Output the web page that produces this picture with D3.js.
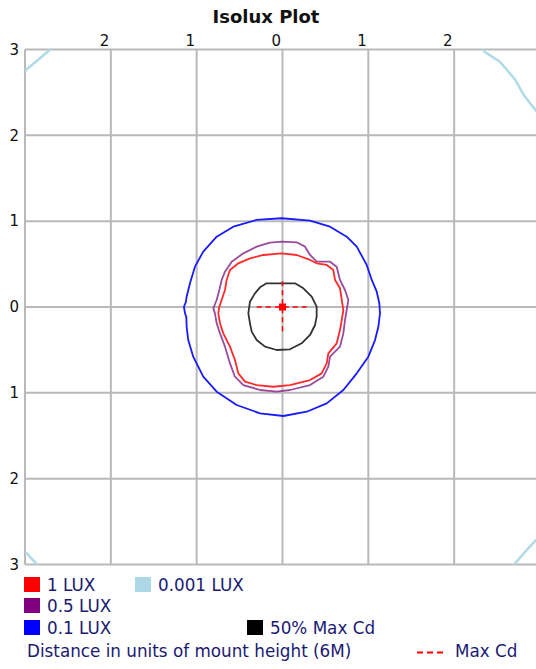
<!DOCTYPE html>
<html><head><meta charset="utf-8">
<script src="https://cdn.jsdelivr.net/npm/d3@7"></script>
<style>html,body{margin:0;padding:0;background:#fff;}svg{display:block;}</style>
</head><body>
<svg id="c" width="536" height="669"></svg>
<script>
// ---- data (units of mount height) ----
const xTicks = [-2, -1, 0, 1, 2];
const yTicks = [-3, -2, -1, 0, 1, 2, 3];
const gridX = [-3, -2, -1, 0, 1, 2, 3];
const gridY = [-3, -2, -1, 0, 1, 2, 3];

const lux1 = [[-0.010,0.625],[0.165,0.606],[0.321,0.548],[0.398,0.509],[0.515,0.490],[0.592,0.431],[0.612,0.315],[0.670,0.218],[0.690,0.082],[0.709,-0.035],[0.690,-0.152],[0.670,-0.268],[0.631,-0.423],[0.534,-0.540],[0.515,-0.657],[0.456,-0.773],[0.321,-0.851],[0.087,-0.909],[-0.107,-0.929],[-0.301,-0.909],[-0.437,-0.870],[-0.515,-0.773],[-0.554,-0.618],[-0.612,-0.462],[-0.690,-0.307],[-0.728,-0.190],[-0.748,-0.074],[-0.736,0.004],[-0.709,0.082],[-0.670,0.198],[-0.651,0.315],[-0.612,0.431],[-0.515,0.509],[-0.379,0.567],[-0.223,0.606]];

const lux05 = [[-0.010,0.761],[0.165,0.754],[0.262,0.703],[0.321,0.606],[0.398,0.528],[0.554,0.528],[0.631,0.470],[0.670,0.315],[0.728,0.198],[0.767,0.082],[0.748,-0.035],[0.728,-0.152],[0.709,-0.307],[0.670,-0.462],[0.554,-0.579],[0.534,-0.695],[0.476,-0.812],[0.321,-0.909],[0.087,-0.967],[-0.068,-0.987],[-0.262,-0.967],[-0.456,-0.909],[-0.554,-0.812],[-0.612,-0.657],[-0.670,-0.462],[-0.728,-0.307],[-0.767,-0.190],[-0.787,-0.074],[-0.806,-0.016],[-0.767,0.082],[-0.736,0.198],[-0.709,0.315],[-0.670,0.412],[-0.592,0.528],[-0.456,0.625],[-0.301,0.703],[-0.146,0.750]];

const lux01 = [[-0.010,1.034],[0.320,1.006],[0.554,0.936],[0.748,0.819],[0.865,0.703],[0.981,0.490],[1.040,0.315],[1.098,0.178],[1.128,0.043],[1.136,-0.073],[1.117,-0.230],[1.078,-0.385],[1.000,-0.579],[0.865,-0.773],[0.709,-0.967],[0.515,-1.123],[0.282,-1.220],[0.010,-1.270],[-0.262,-1.239],[-0.534,-1.142],[-0.767,-0.987],[-0.923,-0.812],[-1.040,-0.579],[-1.098,-0.385],[-1.117,-0.230],[-1.120,-0.120],[-1.136,-0.073],[-1.148,0.003],[-1.125,0.060],[-1.117,0.120],[-1.078,0.276],[-1.020,0.470],[-0.923,0.645],[-0.767,0.819],[-0.573,0.936],[-0.301,1.014]];

const lux0001 = [[-2.55,3.15],[-2.74,2.97],[-2.87,2.86],[-2.99,2.76],[-3.20,2.50],[-4.20,0.00],[-3.20,-2.75],[-2.98,-2.87],[-2.86,-3.00],[-2.60,-3.30],[0.00,-4.10],[2.50,-3.20],[2.69,-3.01],[2.82,-2.86],[2.95,-2.72],[3.15,-2.50],[4.00,0.00],[3.10,2.10],[2.92,2.33],[2.81,2.47],[2.71,2.65],[2.53,2.86],[2.36,2.97],[2.20,3.15],[0.00,4.00]];

const maxCd50 = [[-0.185,0.276],[0.146,0.276],[0.243,0.218],[0.340,0.120],[0.398,0.004],[0.398,-0.113],[0.379,-0.210],[0.321,-0.326],[0.223,-0.423],[0.087,-0.493],[-0.068,-0.501],[-0.204,-0.462],[-0.301,-0.385],[-0.359,-0.287],[-0.379,-0.190],[-0.398,-0.074],[-0.379,0.062],[-0.321,0.159],[-0.262,0.229]];

const maxCdPoint = [0, 0];
const maxCdCross = 0.3;

const legendItems = [
  {label: "1 LUX", color: "#ff0000", col: 0, row: 0},
  {label: "0.001 LUX", color: "#add8e6", col: 1, row: 0},
  {label: "0.5 LUX", color: "#800080", col: 0, row: 1},
  {label: "0.1 LUX", color: "#0000ff", col: 0, row: 2},
  {label: "50% Max Cd", color: "#000000", col: 2, row: 2}
];
const titleText = "Isolux Plot";
const footText = "Distance in units of mount height (6M)";
const maxCdText = "Max Cd";

// ---- drawing ----
const svg = d3.select("#c");
const x = d3.scaleLinear().domain([-3, 3]).range([25, 540]);
const y = d3.scaleLinear().domain([-3, 3]).range([564.5, 49.5]);
const font = "'DejaVu Sans', Verdana, sans-serif";
const ink = "#1a1a72";
const lgSize = 16.8;

svg.append("text").attr("x", 266).attr("y", 23).attr("text-anchor", "middle")
  .attr("font-family", font).attr("font-weight", "bold").attr("font-size", 18)
  .attr("fill", "#111").text(titleText);

svg.append("defs").append("clipPath").attr("id", "pc")
  .append("rect").attr("x", x(-3)).attr("y", y(3)).attr("width", x(3) - x(-3)).attr("height", y(-3) - y(3));

const grid = svg.append("g").attr("stroke", "#b9b9b9").attr("stroke-width", 2);
grid.selectAll("line.v").data(gridX).join("line").attr("class", "v")
  .attr("x1", d => x(d)).attr("x2", d => x(d)).attr("y1", y(3)).attr("y2", y(-3));
grid.selectAll("line.h").data(gridY).join("line").attr("class", "h")
  .attr("y1", d => y(d)).attr("y2", d => y(d)).attr("x1", x(-3)).attr("x2", x(3));

// axes labels
const topAxis = svg.append("g").attr("transform", `translate(0,${y(3) - 4})`)
  .call(d3.axisTop(x).tickValues(xTicks).tickFormat(d => Math.abs(d)).tickSize(0).tickPadding(0));
topAxis.select(".domain").remove();
topAxis.selectAll("text").attr("font-family", font).attr("font-size", 15).attr("fill", "#111")
  .attr("text-anchor", "end").attr("dx", -2);

const leftAxis = svg.append("g").attr("transform", `translate(19,0)`)
  .call(d3.axisLeft(y).tickValues(yTicks).tickFormat(d => Math.abs(d)).tickSize(0).tickPadding(0));
leftAxis.select(".domain").remove();
leftAxis.selectAll("text").attr("font-family", font).attr("font-size", 15).attr("fill", "#111");

// contours
const line = d3.line().x(d => x(d[0])).y(d => y(d[1])).curve(d3.curveLinearClosed);
const plot = svg.append("g").attr("clip-path", "url(#pc)").attr("fill", "none").attr("stroke-linejoin", "round");
plot.append("path").datum(lux0001).attr("d", line).attr("stroke", "#b2dbe8").attr("stroke-width", 2.6);
plot.append("path").datum(lux01).attr("d", line).attr("stroke", "#1a1aff").attr("stroke-width", 1.8);
plot.append("path").datum(lux05).attr("d", line).attr("stroke", "#8a2b8a").attr("stroke-width", 1.8).attr("stroke-opacity", 0.85);
plot.append("path").datum(lux1).attr("d", line).attr("stroke", "#ff2a2a").attr("stroke-width", 1.8);
plot.append("path").datum(maxCd50).attr("d", line).attr("stroke", "#333").attr("stroke-width", 1.8);

// max cd cross
const cross = plot.append("g").attr("stroke", "#ff0000").attr("stroke-width", 1.5).attr("stroke-dasharray", "5,4");
cross.append("line").attr("x1", x(maxCdPoint[0] - maxCdCross)).attr("x2", x(maxCdPoint[0] + maxCdCross))
  .attr("y1", y(maxCdPoint[1])).attr("y2", y(maxCdPoint[1]));
cross.append("line").attr("y1", y(maxCdPoint[1] + maxCdCross)).attr("y2", y(maxCdPoint[1] - maxCdCross))
  .attr("x1", x(maxCdPoint[0])).attr("x2", x(maxCdPoint[0]));
plot.append("rect").attr("x", x(maxCdPoint[0]) - 3.5).attr("y", y(maxCdPoint[1]) - 3.5)
  .attr("width", 7).attr("height", 7).attr("fill", "#ff0000").attr("stroke", "none");

// legend
const colX = [24, 135, 247];
const rowY = [577, 598, 620];
const lg = svg.append("g");
const items = lg.selectAll("g").data(legendItems).join("g")
  .attr("transform", d => `translate(${colX[d.col]},${rowY[d.row]})`);
items.append("rect").attr("width", 16).attr("height", 15).attr("fill", d => d.color);
items.append("text").attr("x", 23).attr("y", 14).attr("font-family", font).attr("font-size", lgSize)
  .attr("fill", ink).text(d => d.label);

svg.append("text").attr("x", 27).attr("y", 657).attr("font-family", font).attr("font-size", lgSize)
  .attr("fill", ink).text(footText);
svg.append("line").attr("x1", 417).attr("x2", 444).attr("y1", 652.5).attr("y2", 652.5)
  .attr("stroke", "#ff0000").attr("stroke-width", 2).attr("stroke-dasharray", "6,4");
svg.append("text").attr("x", 455).attr("y", 657).attr("font-family", font).attr("font-size", lgSize)
  .attr("fill", ink).text(maxCdText);
</script>
</body></html>
